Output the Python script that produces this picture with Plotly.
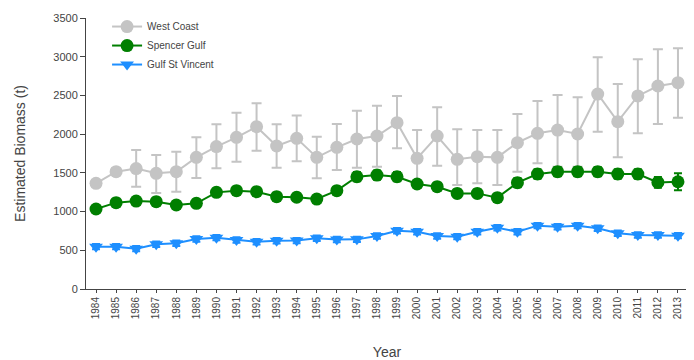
import plotly.graph_objects as go

years = list(range(1984, 2014))

west_coast = [1365, 1515, 1555, 1494, 1515, 1700, 1840, 1959, 2096, 1847,
              1946, 1700, 1830, 1937, 1976, 2148, 1688, 1976, 1675, 1709,
              1700, 1890, 2011, 2053, 2002, 2518, 2161, 2493, 2622, 2665]
west_coast_hi = [1405, 1555, 1795, 1730, 1773, 1959, 2127, 2277, 2398, 2127,
                 2240, 1967, 2131, 2303, 2368, 2493, 2053, 2346, 2062, 2053,
                 2053, 2260, 2428, 2505, 2475, 2992, 2648, 2966, 3096, 3109]
west_coast_lo = [1325, 1475, 1321, 1240, 1257, 1433, 1558, 1644, 1786, 1567,
                 1650, 1429, 1537, 1567, 1580, 1817, 1321, 1593, 1343, 1365,
                 1343, 1515, 1623, 1580, 1580, 2032, 1700, 2011, 2131, 2212]

spencer_gulf = [1033, 1115, 1136, 1128, 1085, 1106, 1248, 1270, 1257, 1192,
                1185, 1162, 1270, 1450, 1472, 1450, 1356, 1321, 1235, 1235,
                1180, 1373, 1485, 1515, 1515, 1515, 1485, 1485, 1377, 1385]
spencer_gulf_err = [50, 50, 50, 50, 50, 50, 50, 50, 50, 50,
                    50, 50, 50, 60, 60, 60, 50, 50, 50, 50,
                    50, 60, 60, 60, 60, 60, 60, 60, 70, 110]

gulf_st_vincent = [547, 547, 521, 577, 590, 646, 663, 633, 611, 624,
                   625, 655, 640, 641, 684, 753, 740, 684, 676, 740,
                   790, 740, 818, 805, 818, 784, 719, 697, 697, 689]
gulf_st_vincent_err = [35] * 30

wc_plus = [h - v for h, v in zip(west_coast_hi, west_coast)]
wc_minus = [v - l for v, l in zip(west_coast, west_coast_lo)]

GRAY = "#c4c4c4"
GREEN = "#007f00"
BLUE = "#1e8fff"

fig = go.Figure()
fig.add_trace(go.Scatter(
    x=years, y=west_coast, name="West Coast", mode="lines+markers",
    line=dict(color=GRAY, width=2),
    marker=dict(symbol="circle", size=13, color=GRAY),
    error_y=dict(type="data", array=wc_plus, arrayminus=wc_minus,
                 color=GRAY, thickness=2, width=5),
))
fig.add_trace(go.Scatter(
    x=years, y=spencer_gulf, name="Spencer Gulf", mode="lines+markers",
    line=dict(color=GREEN, width=2),
    marker=dict(symbol="circle", size=13, color=GREEN),
    error_y=dict(type="data", array=spencer_gulf_err,
                 color=GREEN, thickness=2, width=4),
))
fig.add_trace(go.Scatter(
    x=years, y=gulf_st_vincent, name="Gulf St Vincent", mode="lines+markers",
    line=dict(color=BLUE, width=2),
    marker=dict(symbol="triangle-down", size=12, color=BLUE),
    error_y=dict(type="data", array=gulf_st_vincent_err,
                 color=BLUE, thickness=2, width=4),
))

# The page body has an 8px default margin, so the figure is sized to fit the 694x360 window.
fig.update_layout(
    width=686, height=352,
    margin=dict(l=78, r=6, t=10, b=71, autoexpand=False),
    paper_bgcolor="white", plot_bgcolor="white",
    font=dict(family="Liberation Sans, Arial, sans-serif", size=10, color="#444444"),
    showlegend=True,
    legend=dict(x=0.035, y=1.022, xanchor="left", yanchor="top",
                bgcolor="rgba(0,0,0,0)", font=dict(size=10, color="#444444"),
                itemwidth=30, tracegroupgap=0),
    xaxis=dict(
        range=[1983.5, 2013.5], tickmode="array", tickvals=years,
        ticktext=[str(y) for y in years], tickangle=-90,
        showline=True, linecolor="#444444", linewidth=1,
        ticks="outside", ticklen=3, tickcolor="#444444",
        showgrid=False, zeroline=False, automargin=False,
        tickfont=dict(size=10, color="#444444"),
        title=dict(text="Year", font=dict(size=14, color="#444444"), standoff=33),
    ),
    yaxis=dict(
        range=[0, 3500], tickvals=[0, 500, 1000, 1500, 2000, 2500, 3000, 3500],
        showline=True, linecolor="#444444", linewidth=1,
        ticks="outside", ticklen=5, tickcolor="#444444",
        showgrid=False, zeroline=False, automargin=False,
        tickfont=dict(size=11, color="#444444"),
        title=dict(text="Estimated Biomass (t)", font=dict(size=14, color="#444444"), standoff=24),
    ),
)

fig.write_html("out.html")
